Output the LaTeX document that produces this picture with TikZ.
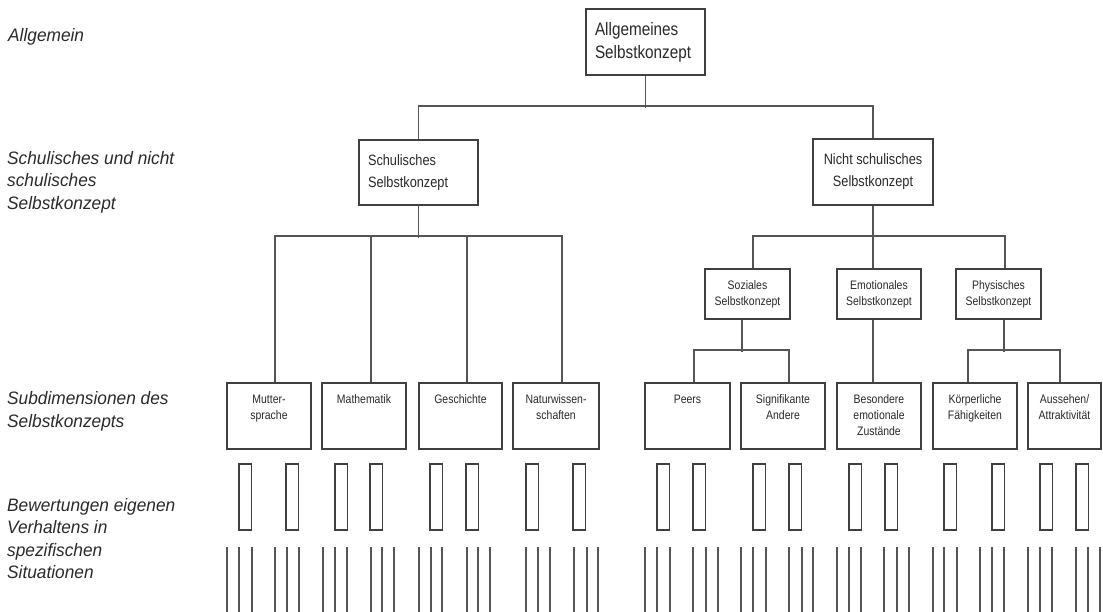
\documentclass[tikz,border=0pt]{standalone}
\usepackage{fontspec}
\setmainfont{Liberation Sans}
\newfontfamily\bxf{Liberation Sans}[FakeStretch=0.85]
\newfontfamily\lbf{Liberation Sans}[FakeStretch=0.96]
\definecolor{boxc}{HTML}{404040}
\definecolor{linec}{HTML}{555555}
\definecolor{textc}{HTML}{2A2A2A}
\newcommand\subtxt[2]{\parbox[c][66pt][t]{#1}{\centering\vspace*{12pt}#2}}
\begin{document}
\begin{tikzpicture}[x=1pt,y=-1pt,
  bx/.style={draw=boxc, line width=1.6pt, inner sep=0pt, fill=white, text=textc},
  ln/.style={draw=linec, line width=1.8pt},
  thin/.style={draw=linec, line width=1.3pt},
  lbl/.style={anchor=west, align=left, inner sep=0pt, text=textc, font=\lbf\itshape\fontsize{18}{22.5}\selectfont},
  big/.style={bx, font=\bxf\fontsize{18}{23}\selectfont},
  mid/.style={bx, font=\bxf\fontsize{15}{22}\selectfont},
  sml/.style={bx, font=\bxf\fontsize{12.3}{16}\selectfont, minimum height=50pt, align=center},
  sub/.style={bx, font=\bxf\fontsize{12.3}{16}\selectfont}]
\useasboundingbox (0,0) rectangle (1103,612);

% left labels
\node[lbl] (l1) at (8,37) {Allgemein};
\node[lbl] (l2) at (7,182) {Schulisches und nicht\\schulisches\\Selbstkonzept};
\node[lbl] (l3) at (7,411.5) {Subdimensionen des\\Selbstkonzepts};
\node[lbl] (l4) at (7,538.5) {Bewertungen eigenen\\Verhaltens in\\spezifischen\\Situationen};

% level 1
\node[big, minimum width=119pt, minimum height=66pt, text width=101pt, align=left] (A) at (645.5,42) {Allgemeines\\Selbstkonzept};

% level 2
\node[mid, minimum width=119pt, minimum height=65pt, text width=101pt, align=left] (S) at (418.5,172.5) {Schulisches\\Selbstkonzept};
\node[mid, minimum width=120pt, minimum height=66pt, align=center] (N) at (873,172) {Nicht schulisches\\Selbstkonzept};

% level 3
\node[sml, minimum width=85pt] (Soz) at (747.5,294) {Soziales\\Selbstkonzept};
\node[sml, minimum width=84pt] (Emo) at (879,294) {Emotionales\\Selbstkonzept};
\node[sml, minimum width=85pt] (Phy) at (998.5,294) {Physisches\\Selbstkonzept};

% subdimensions
\node[sub] (Mut) at (269,416) {\subtxt{84pt}{Mutter-\\sprache}};
\node[sub] (Mat) at (364,416) {\subtxt{84pt}{Mathematik}};
\node[sub] (Ges) at (460.5,416) {\subtxt{83pt}{Geschichte}};
\node[sub] (Nat) at (556,416) {\subtxt{86pt}{Naturwissen-\\schaften}};
\node[sub] (Pee) at (687.5,416) {\subtxt{85pt}{Peers}};
\node[sub] (Sig) at (783,416) {\subtxt{84pt}{Signifikante\\Andere}};
\node[sub] (Bes) at (879,416) {\subtxt{84pt}{Besondere\\emotionale\\Zustände}};
\node[sub] (Koe) at (975,416) {\subtxt{84pt}{Körperliche\\Fähigkeiten}};
\node[sub] (Aus) at (1064.5,416) {\subtxt{73pt}{Aussehen/\\Attraktivität}};

% connectors
\draw[ln] (A.south) -- ++(0,32);
\draw[ln] (S.north) -- ++(0,-33) -| (N.north);
\draw[ln] (S.south) -- ++(0,32);
\draw[ln] ([xshift=6pt]Mut.north) -- ++(0,-146) -| ([xshift=6pt]Nat.north);
\draw[ln] ([xshift=7pt]Mat.north) -- ++(0,-146);
\draw[ln] ([xshift=6.5pt]Ges.north) -- ++(0,-146);
\draw[ln] (N.south) -- ++(0,32);
\draw[ln] ([xshift=5.5pt]Soz.north) -- ++(0,-32) -| ([xshift=6.5pt]Phy.north);
\draw[ln] ([xshift=-6pt]Emo.north) -- ++(0,-32);
\draw[ln] ([xshift=-5.5pt]Soz.south) -- ++(0,32);
\draw[ln] ([xshift=6.5pt]Pee.north) -- ++(0,-32) -| ([xshift=6pt]Sig.north);
\draw[ln] ([xshift=-6pt]Emo.south) -- ([xshift=-6pt]Bes.north);
\draw[ln] ([xshift=5.5pt]Phy.south) -- ++(0,32);
\draw[ln] ([xshift=-7pt]Koe.north) -- ++(0,-32) -| ([xshift=-4.5pt]Aus.north);

% small rectangles
\foreach \x in {239,286,335,370,430,466,526,573,657,693,753,789,849,885,944,992,1040,1076}
  \draw[draw=boxc, line width=1.3pt] (\x,464) rectangle ++(12.5,66);

% situation lines
\foreach \x in {227,239,252, 275,287,299, 323,335,347, 371,382,394, 419,431,442, 467,478,490,
                526,538,550, 574,587,598, 645,657,670, 693,706,718, 741,753,766, 789,802,813,
                837,849,861, 884,897,909, 933,944,957, 980,992,1004, 1028,1040,1052, 1076,1088,1100}
  \draw[thin] (\x,547) -- (\x,612);
\end{tikzpicture}
\end{document}
